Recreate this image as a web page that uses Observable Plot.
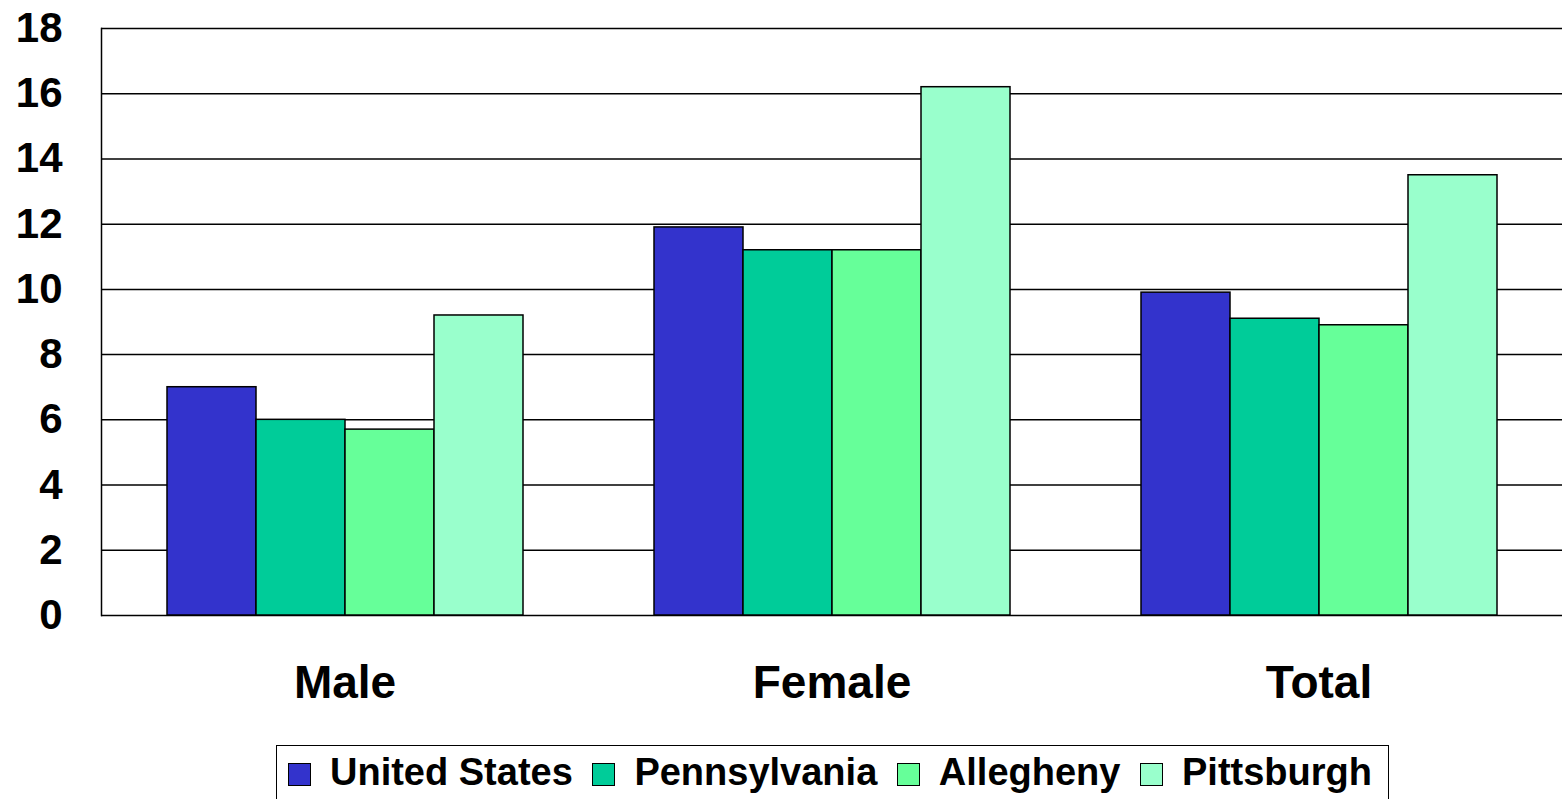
<!DOCTYPE html>
<html>
<head>
<meta charset="utf-8">
<script src="https://cdn.jsdelivr.net/npm/d3@7"></script>
<script src="https://cdn.jsdelivr.net/npm/@observablehq/plot@0.6"></script>
<style>
  html, body { margin: 0; padding: 0; background: #fff; overflow: hidden; }
  body { font-family: "Liberation Sans", Arial, sans-serif; font-weight: bold; }
  #chart svg { display: block; }
  .legend {
    box-sizing: border-box;
    margin: 10px 0 0 276px;
    width: 1113px;
    height: 54px;
    border: 1.5px solid #000;
    border-bottom: none;
    display: flex;
    align-items: center;
    justify-content: space-between;
    padding: 0 16px 0 11px;
    font-size: 38px;
    font-weight: bold;
    color: #000;
  }
  .legend .item { display: flex; align-items: center; white-space: nowrap; }
  .legend .sw { width: 23px; height: 23px; box-sizing: border-box; border: 1.5px solid #000; margin-right: 19px; margin-top: 4px; }
</style>
</head>
<body>
<div id="chart"></div>
<script>
const categories = ["Male", "Female", "Total"];
const series = ["United States", "Pennsylvania", "Allegheny", "Pittsburgh"];
const colors = ["#3333CC", "#00CC99", "#66FF99", "#99FFCC"];
const unitedStates = [7.0, 11.9, 9.9];
const pennsylvania = [6.0, 11.2, 9.1];
const allegheny = [5.7, 11.2, 8.9];
const pittsburgh = [9.2, 16.2, 13.5];
const yTicks = [0, 2, 4, 6, 8, 10, 12, 14, 16, 18];

const seriesValues = [unitedStates, pennsylvania, allegheny, pittsburgh];
const data = [];
categories.forEach((c, ci) => {
  series.forEach((s, si) => {
    data.push({category: c, series: s, value: seriesValues[si][ci]});
  });
});

const chart = Plot.plot({
  width: 1562,
  height: 735,
  marginLeft: 100,
  marginRight: 0,
  marginTop: 28,
  marginBottom: 120,
  style: {fontFamily: "'Liberation Sans', Arial, sans-serif", fontWeight: "bold", color: "#000", background: "#fff"},
  fx: {domain: categories, padding: 0, label: null},
  x: {domain: series, padding: 0, paddingOuter: 0.72, axis: null},
  y: {domain: [0, 18], label: null, axis: null},
  color: {domain: series, range: colors},
  marks: [
    Plot.gridY(yTicks, {stroke: "#000", strokeOpacity: 1, strokeWidth: 1.5}),
    Plot.frame({anchor: "left", facetAnchor: "left", stroke: "#000", strokeWidth: 1.5}),
    Plot.barY(data, {fx: "category", x: "series", y: "value", fill: "series", stroke: "#000", strokeWidth: 1.5}),
    Plot.axisY(yTicks, {anchor: "left", tickSize: 0, tickPadding: 39, fontSize: 42, fontWeight: "bold", label: null}),
    Plot.axisFx({anchor: "bottom", tickSize: 0, tickPadding: 50, fontSize: 46, fontWeight: "bold", label: null})
  ]
});
document.getElementById("chart").appendChild(chart);

const legend = document.createElement("div");
legend.className = "legend";
series.forEach((s, i) => {
  const item = document.createElement("div");
  item.className = "item";
  const sw = document.createElement("span");
  sw.className = "sw";
  sw.style.background = colors[i];
  const label = document.createElement("span");
  label.textContent = s;
  item.appendChild(sw);
  item.appendChild(label);
  legend.appendChild(item);
});
document.body.appendChild(legend);
</script>
</body>
</html>
